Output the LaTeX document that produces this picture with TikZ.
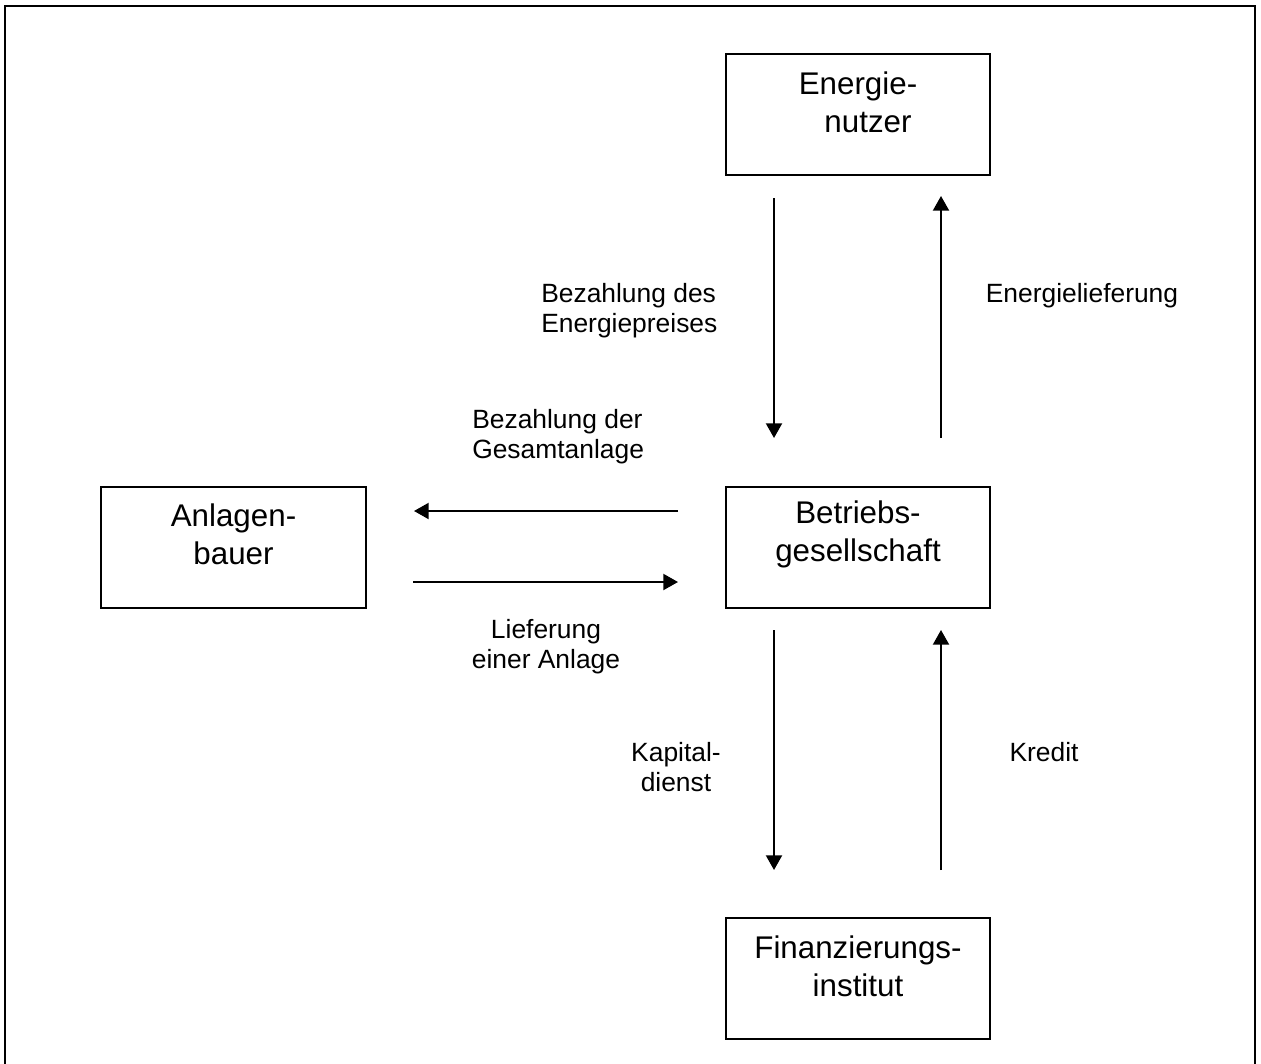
\documentclass[tikz,border=0pt]{standalone}
\usepackage{fontspec}
\setmainfont{Liberation Sans}
\usetikzlibrary{arrows.meta}
\begin{document}
\begin{tikzpicture}[x=0.75pt,y=-0.75pt,
  box/.style={draw,line width=1.5pt,minimum width=198pt,minimum height=90.75pt,inner sep=0pt},
  boxtxt/.style={inner sep=0pt,align=center,font=\fontsize{23.5}{28.5}\selectfont},
  lbl/.style={inner sep=0pt,font=\fontsize{19.8}{22.5}\selectfont},
  arr/.style={line width=1.5pt,-{Triangle[length=11pt,width=12pt]}}]
\useasboundingbox (0,0) rectangle (1261,1064);
\draw[line width=1.8pt] (5,1100) -- (5,6) -- (1255,6) -- (1255,1100);
\node[box] (en) at (858,114.5) {};
\node[box,minimum width=198.75pt] (ab) at (233.5,547) {};
\node[box] (bg) at (858,547) {};
\node[box] (fi) at (858,978.5) {};
\node[boxtxt] (ent) at ([yshift=9.4pt]en.center) {Energie-\\\hspace*{15pt}nutzer};
\node[boxtxt] (abt) at ([yshift=9.4pt]ab.center) {Anlagen-\\bauer};
\node[boxtxt] (bgt) at ([yshift=9.4pt]bg.center) {Betriebs-\\gesellschaft};
\node[boxtxt] (fit) at ([yshift=9.4pt]fi.center) {Finanzierungs-\\institut};
\coordinate (p1) at (774,198); \coordinate (p2) at (774,438);
\coordinate (q1) at (941,438); \coordinate (q2) at (941,196);
\coordinate (r1) at (678,511); \coordinate (r2) at (414,511);
\coordinate (s1) at (413,582); \coordinate (s2) at (678,582);
\coordinate (t1) at (774,630); \coordinate (t2) at (774,870);
\coordinate (u1) at (941,870); \coordinate (u2) at (941,630);
\draw[arr] (p1) -- (p2);
\draw[arr] (q1) -- (q2);
\draw[arr] (r1) -- (r2);
\draw[arr] (s1) -- (s2);
\draw[arr] (t1) -- (t2);
\draw[arr] (u1) -- (u2);
\node[lbl,align=left,anchor=west] (l1) at (541,311) {Bezahlung des\\Energiepreises};
\node[lbl] (l2) at (1082,296) {Energielieferung};
\node[lbl,align=left,anchor=west] (l3) at (472,437) {Bezahlung der\\Gesamtanlage};
\node[lbl,align=center] (l4) at (546,647) {Lieferung\\einer Anlage};
\node[lbl,align=center] (l5) at (676,767) {Kapital-\\dienst};
\node[lbl] (l6) at (1044,752) {Kredit};
\end{tikzpicture}
\end{document}
